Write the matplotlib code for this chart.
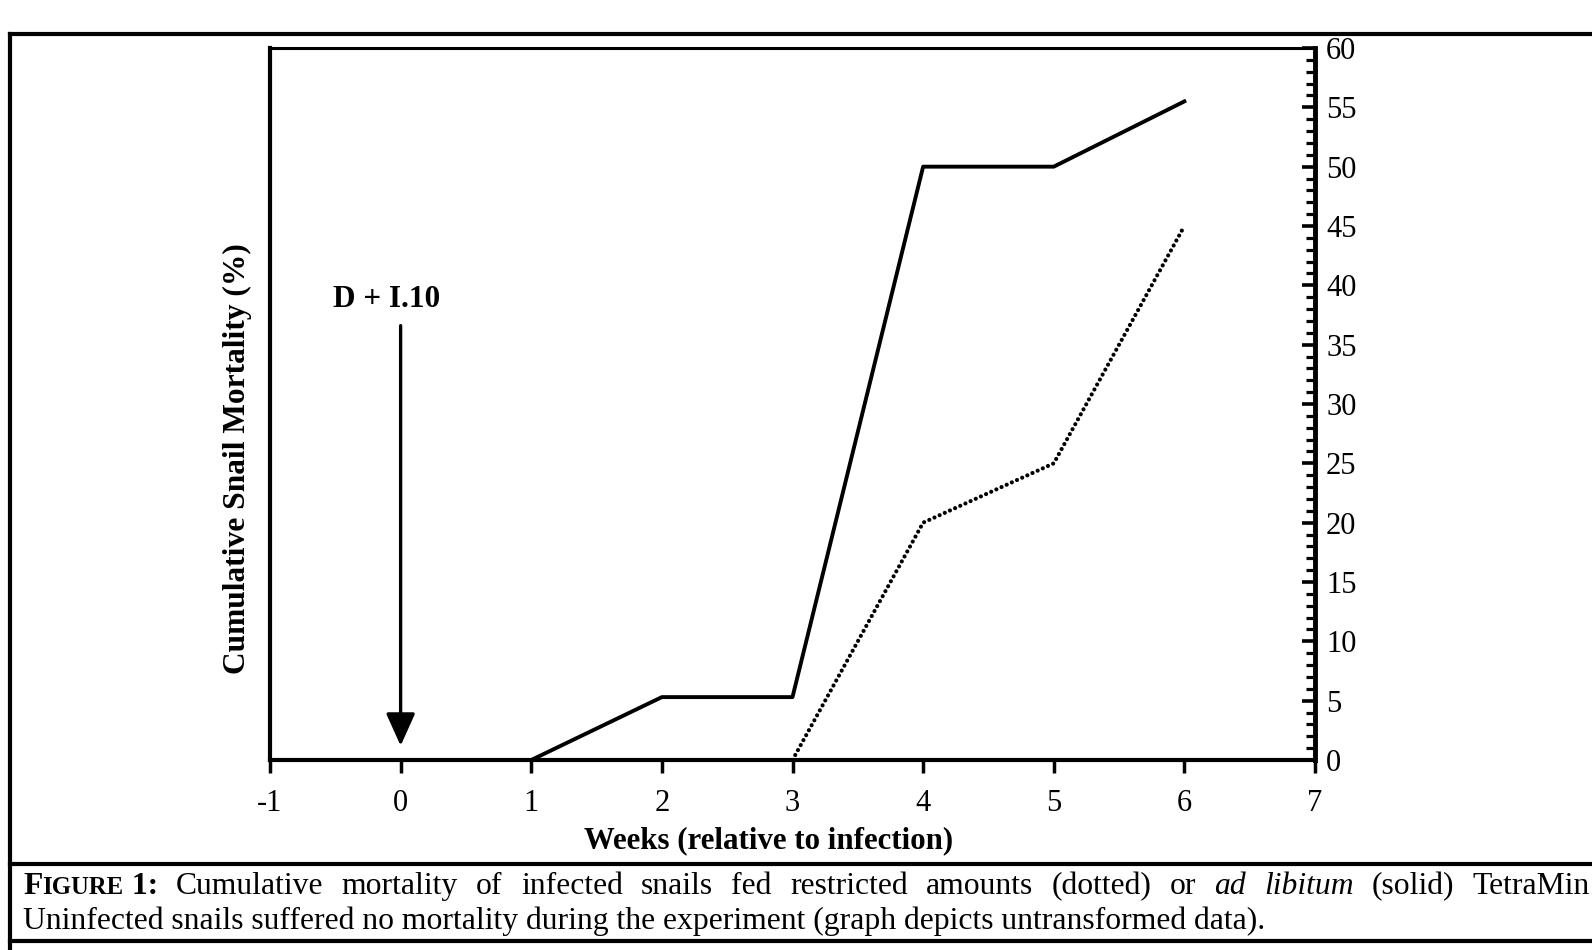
"""
Cumulative snail mortality figure (scanned paper figure, redrawn)
Run: python plot.py
"""

import matplotlib
matplotlib.use("Agg")
import matplotlib.pyplot as plt
from matplotlib.lines import Line2D
from matplotlib.ticker import MultipleLocator

plt.rcParams["font.family"] = "Liberation Serif"

W, H = 1592, 950

# ── Data ──
weeks_solid = [1, 2, 3, 4, 5, 6]          # ad libitum
mort_solid = [0, 5.3, 5.3, 50, 50, 55.5]
weeks_dotted = [3, 4, 5, 6]               # restricted
mort_dotted = [0, 20, 25, 45]
x_ticks = [-1, 0, 1, 2, 3, 4, 5, 6, 7]
x_tick_labels = ["-1", "0", "1", "2", "3", "4", "5", "6", "7"]
y_ticks = [0, 5, 10, 15, 20, 25, 30, 35, 40, 45, 50, 55, 60]

arrow_week = 0
arrow_from, arrow_to = 36.6, 1.2
arrow_label = "D + I.10"

x_label = "Weeks (relative to infection)"
y_label = "Cumulative Snail Mortality (%)"

caption_line1 = [
    [("F", "bold", "normal", 1.0), ("IGURE", "bold", "normal", 0.78), (" 1:", "bold", "normal", 1.0)],
    [("Cumulative", "normal", "normal", 1.0)],
    [("mortality", "normal", "normal", 1.0)],
    [("of", "normal", "normal", 1.0)],
    [("infected", "normal", "normal", 1.0)],
    [("snails", "normal", "normal", 1.0)],
    [("fed", "normal", "normal", 1.0)],
    [("restricted", "normal", "normal", 1.0)],
    [("amounts", "normal", "normal", 1.0)],
    [("(dotted)", "normal", "normal", 1.0)],
    [("or", "normal", "normal", 1.0)],
    [("ad", "normal", "italic", 1.0)],
    [("libitum", "normal", "italic", 1.0)],
    [("(solid)", "normal", "normal", 1.0)],
    [("TetraMin", "normal", "normal", 1.0)],
]
caption_line2 = ("Uninfected snails suffered no mortality during the experiment "
                 "(graph depicts untransformed data).")


def fx(px):
    return px / W


def fy(py):
    return 1 - py / H


def fit_size(t, target_px, renderer):
    # scale font so the text is target_px wide
    w = t.get_window_extent(renderer).width
    t.set_fontsize(t.get_fontsize() * target_px / w)


fig = plt.figure(figsize=(W / 100, H / 100), dpi=100)
renderer = fig.canvas.get_renderer()
ax = fig.add_axes([fx(270), fy(760), fx(1315) - fx(270), fy(48) - fy(760)])

# ── Lines ──
ax.plot(weeks_solid, mort_solid, color="black", lw=2.8, clip_on=False)
ax.plot(weeks_dotted, mort_dotted, color="black", lw=3.0,
        linestyle=(0, (0.01, 1.35)), dash_capstyle="round", clip_on=False)

ax.set_xlim(-1, 7)
ax.set_ylim(0, 60)

# ── Axes style ──
ax.set_xticks(x_ticks)
ax.set_xticklabels(x_tick_labels)
ax.tick_params(axis="x", direction="out", length=9, width=2.5,
               labelsize=22, pad=12, colors="black")
ax.yaxis.tick_right()
ax.set_yticks(y_ticks)
ax.yaxis.set_minor_locator(MultipleLocator(1))
ax.tick_params(axis="y", which="major", direction="in", length=9.5,
               width=2.6, labelsize=22, pad=8)
ax.tick_params(axis="y", which="minor", direction="in", length=6.5, width=2.3)
ax.spines["left"].set_linewidth(3)
ax.spines["right"].set_linewidth(3.5)
ax.spines["bottom"].set_linewidth(3)
ax.spines["top"].set_linewidth(2.2)

# ── Arrow annotation ──
ax.annotate("", xy=(arrow_week, arrow_to), xytext=(arrow_week, arrow_from),
            arrowprops=dict(arrowstyle="-|>,head_length=1.0,head_width=0.45",
                            mutation_scale=20, lw=2.4, color="black",
                            shrinkA=0, shrinkB=0))
t = ax.text(arrow_week - 0.105, 38.8, arrow_label, ha="center", va="center",
            fontsize=20, fontweight="bold")
fit_size(t, 107, renderer)

# ── Axis labels ──
t = fig.text(fx(769), fy(841), x_label, ha="center", va="center",
             fontsize=22, fontweight="bold")
fit_size(t, 370, renderer)
t = fig.text(fx(237), fy(459), y_label, ha="center", va="center",
             rotation=90, fontsize=24, fontweight="bold")
t_w = t.get_window_extent(renderer).height
t.set_fontsize(t.get_fontsize() * 431 / t_w)

# ── Frame lines ──
frame_kw = dict(transform=fig.transFigure, color="black", lw=3)
fig.add_artist(Line2D([fx(10), 1], [fy(34), fy(34)], **frame_kw))
fig.add_artist(Line2D([fx(10), fx(10)], [fy(34), 0], **frame_kw))
fig.add_artist(Line2D([fx(10), 1], [fy(864), fy(864)], **frame_kw))
fig.add_artist(Line2D([fx(10), 1], [fy(941), fy(941)], **frame_kw))

# ── Caption ──
t2 = fig.text(fx(23), fy(929), caption_line2, ha="left", va="baseline", fontsize=20)
fit_size(t2, 1244, renderer)
cap_fs = t2.get_fontsize()

# measure the words of line 1, then justify between 23 and 1590 px
word_widths = []
for word in caption_line1:
    w = 0
    for text, weight, style, scale in word:
        tt = fig.text(0, 0, text, fontsize=cap_fs * scale, fontweight=weight, fontstyle=style)
        w += tt.get_window_extent(renderer).width
        tt.remove()
    word_widths.append(w)
gap = (1590 - 23 - sum(word_widths)) / (len(caption_line1) - 1)

x = 23
for word, ww in zip(caption_line1, word_widths):
    xi = x
    for text, weight, style, scale in word:
        tt = fig.text(fx(xi), fy(894), text, ha="left", va="baseline",
                      fontsize=cap_fs * scale, fontweight=weight, fontstyle=style)
        xi += tt.get_window_extent(renderer).width
    x += ww + gap

fig.savefig("out.png", dpi=100)
